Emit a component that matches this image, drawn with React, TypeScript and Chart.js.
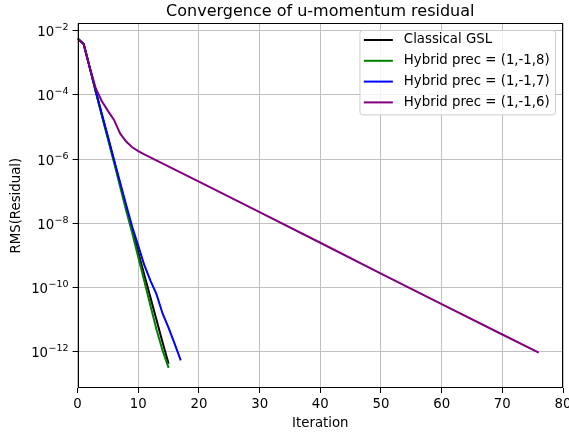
import React, { useEffect, useRef } from "react";
import { Chart, registerables } from "chart.js";

Chart.register(...registerables);

// ---------- data ----------
const classicalIter = [0, 1, 2, 3, 4, 5, 6, 7, 8, 9, 10, 11, 12, 13, 14, 15];
const classicalRms = [5.6e-3, 3.8e-3, 7.1e-4, 1.26e-4, 2.4e-5, 4.5e-6, 8.9e-7, 1.66e-7, 3.2e-8, 6.3e-9, 1.26e-9, 2.5e-10, 5.0e-11, 1.0e-11, 2.0e-12, 4.3e-13];

const hybrid8Iter = [0, 1, 2, 3, 4, 5, 6, 7, 8, 9, 10, 11, 12, 13, 14, 15];
const hybrid8Rms = [5.6e-3, 3.8e-3, 7.1e-4, 1.2e-4, 2.24e-5, 4.2e-6, 7.9e-7, 1.41e-7, 2.5e-8, 5.0e-9, 8.9e-10, 1.58e-10, 2.8e-11, 5.0e-12, 1.12e-12, 3.2e-13];

const hybrid7Iter = [0, 1, 2, 3, 4, 5, 6, 7, 8, 9, 10, 11, 12, 13, 14, 15, 16, 17];
const hybrid7Rms = [5.6e-3, 3.8e-3, 7.1e-4, 1.32e-4, 2.5e-5, 5.0e-6, 9.5e-7, 1.9e-7, 3.8e-8, 7.9e-9, 2.0e-9, 5.0e-10, 1.66e-10, 6.3e-11, 1.58e-11, 5.6e-12, 1.78e-12, 5.5e-13];

const hybrid6Iter = [0, 1, 2, 3, 4, 5, 6, 7, 8, 9, 10, 11, 20, 30, 40, 50, 60, 70, 76];
const hybrid6Rms = [5.6e-3, 3.8e-3, 7.1e-4, 1.58e-4, 6.3e-5, 3.16e-5, 1.66e-5, 6.3e-6, 3.5e-6, 2.34e-6, 1.78e-6, 1.41e-6, 2.0e-7, 2.24e-8, 2.5e-9, 2.75e-10, 3.1e-11, 3.5e-12, 9.5e-13];

const seriesLabels = ["Classical GSL", "Hybrid prec = (1,-1,8)", "Hybrid prec = (1,-1,7)", "Hybrid prec = (1,-1,6)"];
const seriesColors = ["#000000", "#008000", "#0000ff", "#800080"];

const xTickValues = [0, 10, 20, 30, 40, 50, 60, 70, 80];
const yTickExponents = [-2, -4, -6, -8, -10, -12];
const yTickBase = "10";
const yTickExponentLabels = ["−2", "−4", "−6", "−8", "−10", "−12"];

const titleText = "Convergence of u-momentum residual";
const xTitle = "Iteration";
const yTitle = "RMS(Residual)";

const FONT = '"DejaVu Sans", "Liberation Sans", sans-serif';

const framePlugin = {
  id: "mplFrame",
  afterDatasetsDraw(chart: any) {
    const { ctx, chartArea: a } = chart;
    ctx.save();
    ctx.strokeStyle = "#000";
    ctx.lineWidth = 1;
    const l = Math.round(a.left) + 0.5;
    const t = Math.round(a.top) + 0.5;
    const r = Math.round(a.right) - 0.5;
    const b = Math.round(a.bottom) - 0.5;
    ctx.strokeRect(l, t, r - l, b - t);
    ctx.restore();
  },
};

const textPlugin = {
  id: "mplText",
  afterDraw(chart: any) {
    const { ctx, chartArea: a } = chart;
    ctx.save();
    // title centred over the axes
    ctx.fillStyle = "#000";
    ctx.font = `16px ${FONT}`;
    ctx.textAlign = "center";
    ctx.textBaseline = "alphabetic";
    ctx.fillText(titleText, (a.left + a.right) / 2, 15.5);
    // y tick labels with superscript exponents
    const ys = chart.scales.y;
    const rightEdge = a.left - 5 - 4;
    yTickExponents.forEach((e, i) => {
      const y = ys.getPixelForValue(Math.pow(10, e));
      ctx.font = `9.5px ${FONT}`;
      const expText = yTickExponentLabels[i];
      const expW = ctx.measureText(expText).width;
      ctx.textAlign = "left";
      ctx.fillText(expText, rightEdge - expW, y - 0.5);
      ctx.font = `13.3px ${FONT}`;
      const baseW = ctx.measureText(yTickBase).width;
      ctx.fillText(yTickBase, rightEdge - expW - baseW - 0.5, y + 5.5);
    });
    ctx.restore();
  },
};

const legendPlugin = {
  id: "mplLegend",
  afterDraw(chart: any) {
    const { ctx, chartArea: a } = chart;
    const ds = chart.data.datasets;
    ctx.save();
    ctx.font = `13.3px ${FONT}`;
    const textW = Math.max(...ds.map((d: any) => ctx.measureText(d.label).width));
    const rowH = 20.8;
    const handleLen = 29;
    const padL = 4.4;
    const gap = 11;
    const padR = 5.3;
    const boxW = padL + handleLen + gap + textW + padR;
    const boxRight = a.right - 8;
    const boxLeft = boxRight - boxW;
    const boxTop = a.top + 6.7;
    const firstRow = boxTop + 10;
    const boxH = 10 + rowH * (ds.length - 1) + 12;
    ctx.beginPath();
    if (ctx.roundRect) ctx.roundRect(boxLeft + 0.5, boxTop + 0.5, boxW, boxH, 2.7);
    else ctx.rect(boxLeft + 0.5, boxTop + 0.5, boxW, boxH);
    ctx.fillStyle = "rgba(255,255,255,0.8)";
    ctx.fill();
    ctx.strokeStyle = "#cccccc";
    ctx.lineWidth = 1;
    ctx.stroke();
    ds.forEach((d: any, i: number) => {
      const y = firstRow + i * rowH;
      ctx.beginPath();
      ctx.moveTo(boxLeft + padL, y);
      ctx.lineTo(boxLeft + padL + handleLen, y);
      ctx.strokeStyle = d.borderColor;
      ctx.lineWidth = 2;
      ctx.stroke();
      ctx.fillStyle = "#000";
      ctx.textBaseline = "middle";
      ctx.textAlign = "left";
      ctx.fillText(d.label, boxLeft + padL + handleLen + gap, y);
    });
    ctx.restore();
  },
};

export default function App() {
  const ref = useRef<HTMLCanvasElement | null>(null);

  useEffect(() => {
    document.body.style.margin = "0";
    const canvas = ref.current;
    if (!canvas) return;

    const iters = [classicalIter, hybrid8Iter, hybrid7Iter, hybrid6Iter];
    const vals = [classicalRms, hybrid8Rms, hybrid7Rms, hybrid6Rms];

    const datasets = seriesLabels.map((label, k) => ({
      label,
      data: iters[k].map((x, i) => ({ x, y: vals[k][i] })),
      borderColor: seriesColors[k],
      backgroundColor: seriesColors[k],
      borderWidth: 2,
      pointRadius: 0,
      tension: 0,
      fill: false,
      order: seriesLabels.length - k,
    }));

    const chart = new Chart(canvas, {
      type: "line",
      data: { datasets },
      plugins: [framePlugin, textPlugin, legendPlugin],
      options: {
        responsive: false,
        animation: false,
        devicePixelRatio: 1,
        layout: { padding: { left: 0, right: 6, top: 23.3, bottom: 0 } },
        plugins: {
          legend: { display: false },
          tooltip: { enabled: false },
          title: { display: false },
        },
        scales: {
          x: {
            type: "linear",
            min: 0,
            max: 80,
            afterBuildTicks: (scale: any) => {
              scale.ticks = xTickValues.map((v) => ({ value: v }));
            },
            afterFit: (scale: any) => {
              scale.height = 44;
              scale.paddingLeft = 0;
              scale.paddingRight = 0;
            },
            border: { display: false },
            grid: {
              color: "#c0c0c0",
              lineWidth: 1,
              drawTicks: true,
              tickLength: 5,
              tickColor: "#000",
            },
            ticks: {
              color: "#000",
              font: { family: FONT, size: 13.3 },
              padding: 4,
              autoSkip: false,
              maxRotation: 0,
              callback: (v: any) => String(v),
            },
            title: {
              display: true,
              text: xTitle,
              color: "#000",
              font: { family: FONT, size: 13.3 },
              padding: { top: 0, bottom: 0 },
            },
          },
          y: {
            type: "logarithmic",
            min: Math.pow(10, -13.12),
            max: Math.pow(10, -1.776),
            afterBuildTicks: (scale: any) => {
              scale.ticks = yTickExponents.map((e) => ({ value: Math.pow(10, e) }));
            },
            afterFit: (scale: any) => {
              scale.width = 77.6;
              scale.paddingTop = 0;
              scale.paddingBottom = 0;
            },
            border: { display: false },
            grid: {
              color: "#c0c0c0",
              lineWidth: 1,
              drawTicks: true,
              tickLength: 5,
              tickColor: "#000",
            },
            ticks: {
              color: "#000",
              font: { family: FONT, size: 13.3 },
              padding: 3,
              autoSkip: false,
              callback: () => "",
            },
            title: {
              display: true,
              text: yTitle,
              color: "#000",
              font: { family: FONT, size: 13.3 },
              padding: { top: 9, bottom: 0 },
            },
          },
        },
      },
    } as any);

    return () => chart.destroy();
  }, []);

  return <canvas ref={ref} width={569} height={432} style={{ display: "block" }} />;
}
